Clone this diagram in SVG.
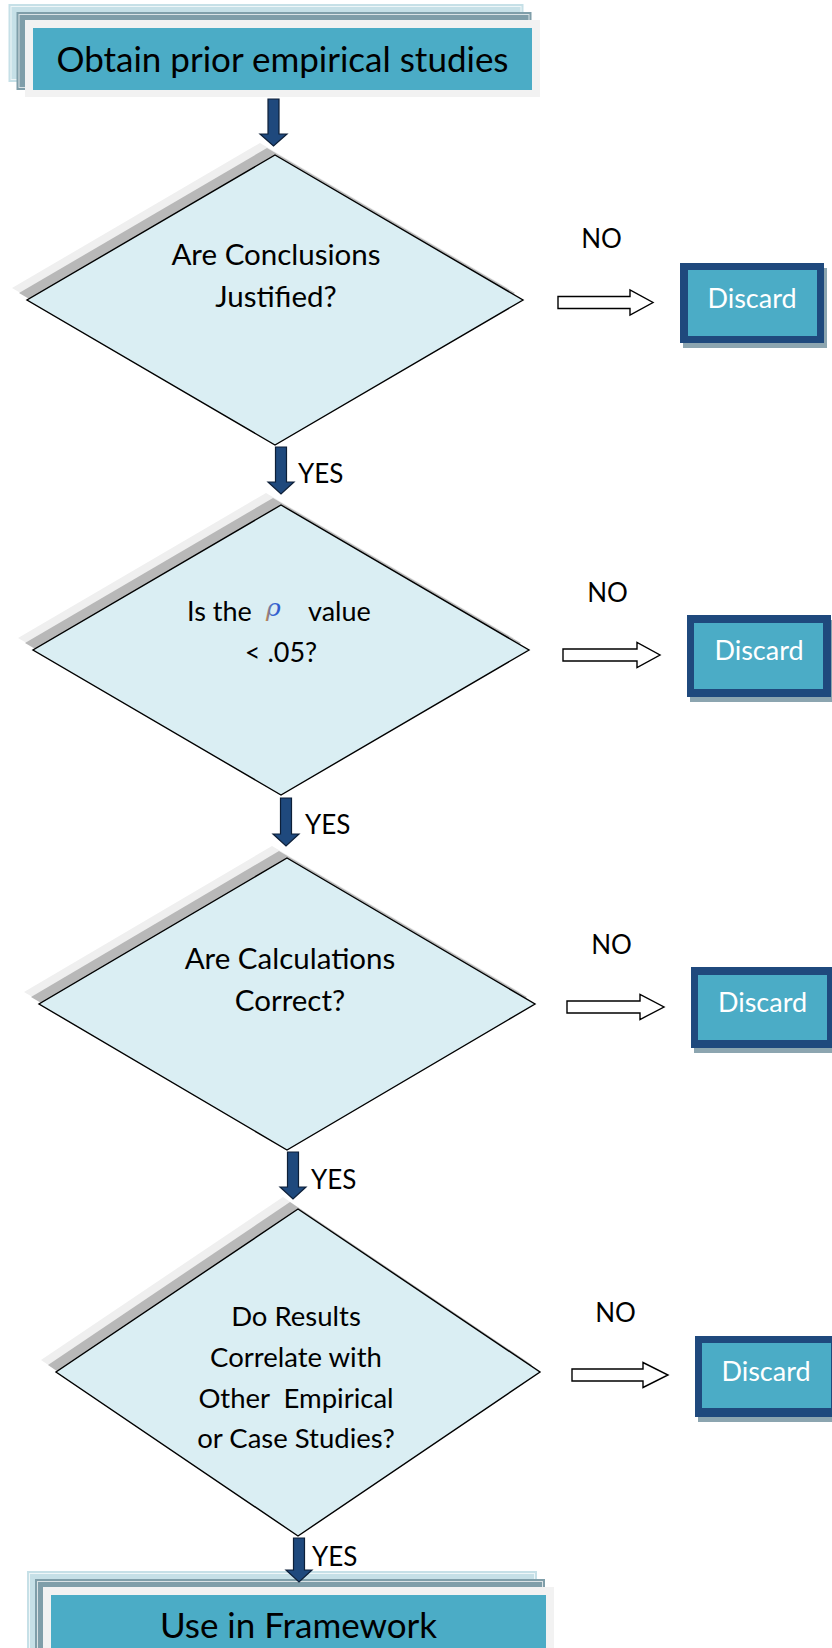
<svg xmlns="http://www.w3.org/2000/svg" width="832" height="1648" viewBox="0 0 832 1648">
<defs>
<style>
.t{font-family:Lato,"Open Sans","Liberation Sans",sans-serif;fill:#000}
.big{font-size:35px}
.lab{font-size:26px}
.dt{text-anchor:middle}
.f29{font-size:29.5px}
.f27{font-size:27px}
.f275{font-size:27.5px}
.dis{font-family:Lato,"Open Sans","Liberation Sans",sans-serif;font-size:27px;fill:#fff;text-anchor:middle}
.dia{fill:#daeef3;stroke:#000;stroke-width:1.4;stroke-linejoin:miter}
.sh1{fill:#efefef}
.sh2{fill:#b8b8b8}
.dn{fill:#1f497d;stroke:#0d1f38;stroke-width:1.2}
.no{fill:#fff;stroke:#000;stroke-width:1.4}
.dbox{fill:#1f497d}
.dsh{fill:#8ca5b0}
.dtl{fill:#4bacc6}
.l1{fill:#c6e0e7}
.l2{fill:#7f9ea9}
.fr{fill:#f2f2f2}
.tl{fill:#4bacc6}
.in{fill:none;stroke:#fff;stroke-width:1;opacity:.7}
</style>
<linearGradient id="rho" x1="0" y1="0" x2="1" y2="0">
<stop offset="0" stop-color="#e0883a"/>
<stop offset="0.45" stop-color="#3c6ad6"/>
<stop offset="1" stop-color="#2f56c8"/>
</linearGradient>
</defs>

<g id="start">
<rect class="l1" x="8.5" y="4" width="515" height="78"/>
<rect class="in" x="11" y="6.5" width="510" height="73"/>
<rect class="l2" x="16.5" y="12" width="515" height="78"/>
<rect class="in" x="19" y="14.5" width="510" height="73"/>
<rect class="fr" x="25" y="20" width="515" height="77"/>
<rect class="tl" x="33" y="28" width="499" height="62"/>
<text class="t big" x="282.5" y="72" text-anchor="middle">Obtain prior empirical studies</text>
</g>

<g id="d1">
<polygon class="sh1" points="260,143 508,288 260,433 12,288"/>
<polygon class="sh2" points="267,148 515,293 267,438 19,293"/>
<polygon class="dia" points="275,155 523,300 275,445 27,300"/>
<text class="t dt f29" x="276" y="265">Are Conclusions</text>
<text class="t dt f29" x="276" y="307">Justified?</text>
</g>

<g id="d2">
<polygon class="sh1" points="266,493 514,638 266,783 18,638"/>
<polygon class="sh2" points="273,498 521,643 273,788 25,643"/>
<polygon class="dia" points="281,505 529,650 281,795 33,650"/>
<text class="t f27" x="187" y="621">Is the</text>
<text x="266" y="616" font-family="'DejaVu Serif','Liberation Serif',serif" font-style="italic" font-size="25" fill="url(#rho)">ρ</text>
<text class="t f27" x="308" y="621">value</text>
<text class="t dt f27" x="281" y="662">&lt; .05?</text>
</g>

<g id="d3">
<polygon class="sh1" points="272,846 520,992 272,1138 24,992"/>
<polygon class="sh2" points="279,851 527,997 279,1143 31,997"/>
<polygon class="dia" points="287,858 535,1004 287,1150 39,1004"/>
<text class="t dt f29" x="290" y="969">Are Calculations</text>
<text class="t dt f29" x="290" y="1011">Correct?</text>
</g>

<g id="d4">
<polygon class="sh1" points="283,1197 525,1360 283,1524 41,1360"/>
<polygon class="sh2" points="290,1202 532,1365 290,1529 48,1365"/>
<polygon class="dia" points="298,1209 540,1372 298,1536 56,1372"/>
<text class="t dt f275" x="296" y="1326">Do Results</text>
<text class="t dt f275" x="296" y="1367">Correlate with</text>
<text class="t dt f275" x="296" y="1408" xml:space="preserve">Other  Empirical</text>
<text class="t dt f275" x="296" y="1448">or Case Studies?</text>
</g>

<g id="discard1">
<rect class="dsh" x="683" y="268" width="144" height="80"/>
<rect class="dbox" x="680" y="263" width="144" height="80"/>
<rect class="dtl" x="688" y="270" width="129" height="66"/>
<text class="dis" x="752" y="308">Discard</text>
</g>
<g id="discard2">
<rect class="dsh" x="690" y="620" width="144" height="82"/>
<rect class="dbox" x="687" y="615" width="144" height="82"/>
<rect class="dtl" x="694" y="623" width="129" height="66"/>
<text class="dis" x="759" y="660">Discard</text>
</g>
<g id="discard3">
<rect class="dsh" x="694" y="972" width="144" height="81"/>
<rect class="dbox" x="691" y="967" width="144" height="81"/>
<rect class="dtl" x="698" y="975" width="129" height="65"/>
<text class="dis" x="762.5" y="1012">Discard</text>
</g>
<g id="discard4">
<rect class="dsh" x="698" y="1341" width="144" height="81"/>
<rect class="dbox" x="695" y="1336" width="144" height="81"/>
<rect class="dtl" x="702" y="1343" width="129" height="65"/>
<text class="dis" x="766" y="1381">Discard</text>
</g>

<g id="end">
<rect class="l1" x="27" y="1571" width="510" height="90"/>
<rect class="in" x="29.5" y="1573.5" width="505" height="90"/>
<rect class="l2" x="35" y="1579" width="510" height="90"/>
<rect class="in" x="37.5" y="1581.5" width="505" height="90"/>
<rect class="fr" x="43" y="1587" width="511" height="90"/>
<rect class="tl" x="51" y="1595" width="495" height="80"/>
<text class="t big" x="298.5" y="1638" text-anchor="middle">Use in Framework</text>
</g>

<g id="connectors">
<path class="dn" d="M268,99 H279 V134 H287 L273.5,146 L260,134 H268 Z"/>
<path class="dn" d="M275.5,447 H286.5 V482 H294 L281,494 L268,482 H275.5 Z"/>
<path class="dn" d="M280.5,798 H291.5 V834 H299 L286,846 L273,834 H280.5 Z"/>
<path class="dn" d="M287.5,1152 H298.5 V1187 H306 L293,1199 L280,1187 H287.5 Z"/>
<path class="dn" d="M293.5,1538 H304.5 V1570 H312 L299,1582 L286,1570 H293.5 Z"/>
<polygon class="no" points="558,296.5 630,296.5 630,290 653,302.5 630,315 630,308.5 558,308.5"/>
<polygon class="no" points="563,649 637,649 637,642.5 660,655 637,667.5 637,661 563,661"/>
<polygon class="no" points="567,1001 640,1001 640,994.5 664,1007 640,1019.5 640,1013 567,1013"/>
<polygon class="no" points="572,1369 643,1369 643,1362.5 668,1375 643,1387.5 643,1381 572,1381"/>
<text class="t lab" x="298" y="483">YES</text>
<text class="t lab" x="305" y="834">YES</text>
<text class="t lab" x="311" y="1189">YES</text>
<text class="t lab" x="312" y="1566">YES</text>
<text class="t lab" x="601.5" y="248" text-anchor="middle">NO</text>
<text class="t lab" x="607.5" y="602" text-anchor="middle">NO</text>
<text class="t lab" x="611.5" y="954" text-anchor="middle">NO</text>
<text class="t lab" x="615.5" y="1322" text-anchor="middle">NO</text>
</g>
</svg>
